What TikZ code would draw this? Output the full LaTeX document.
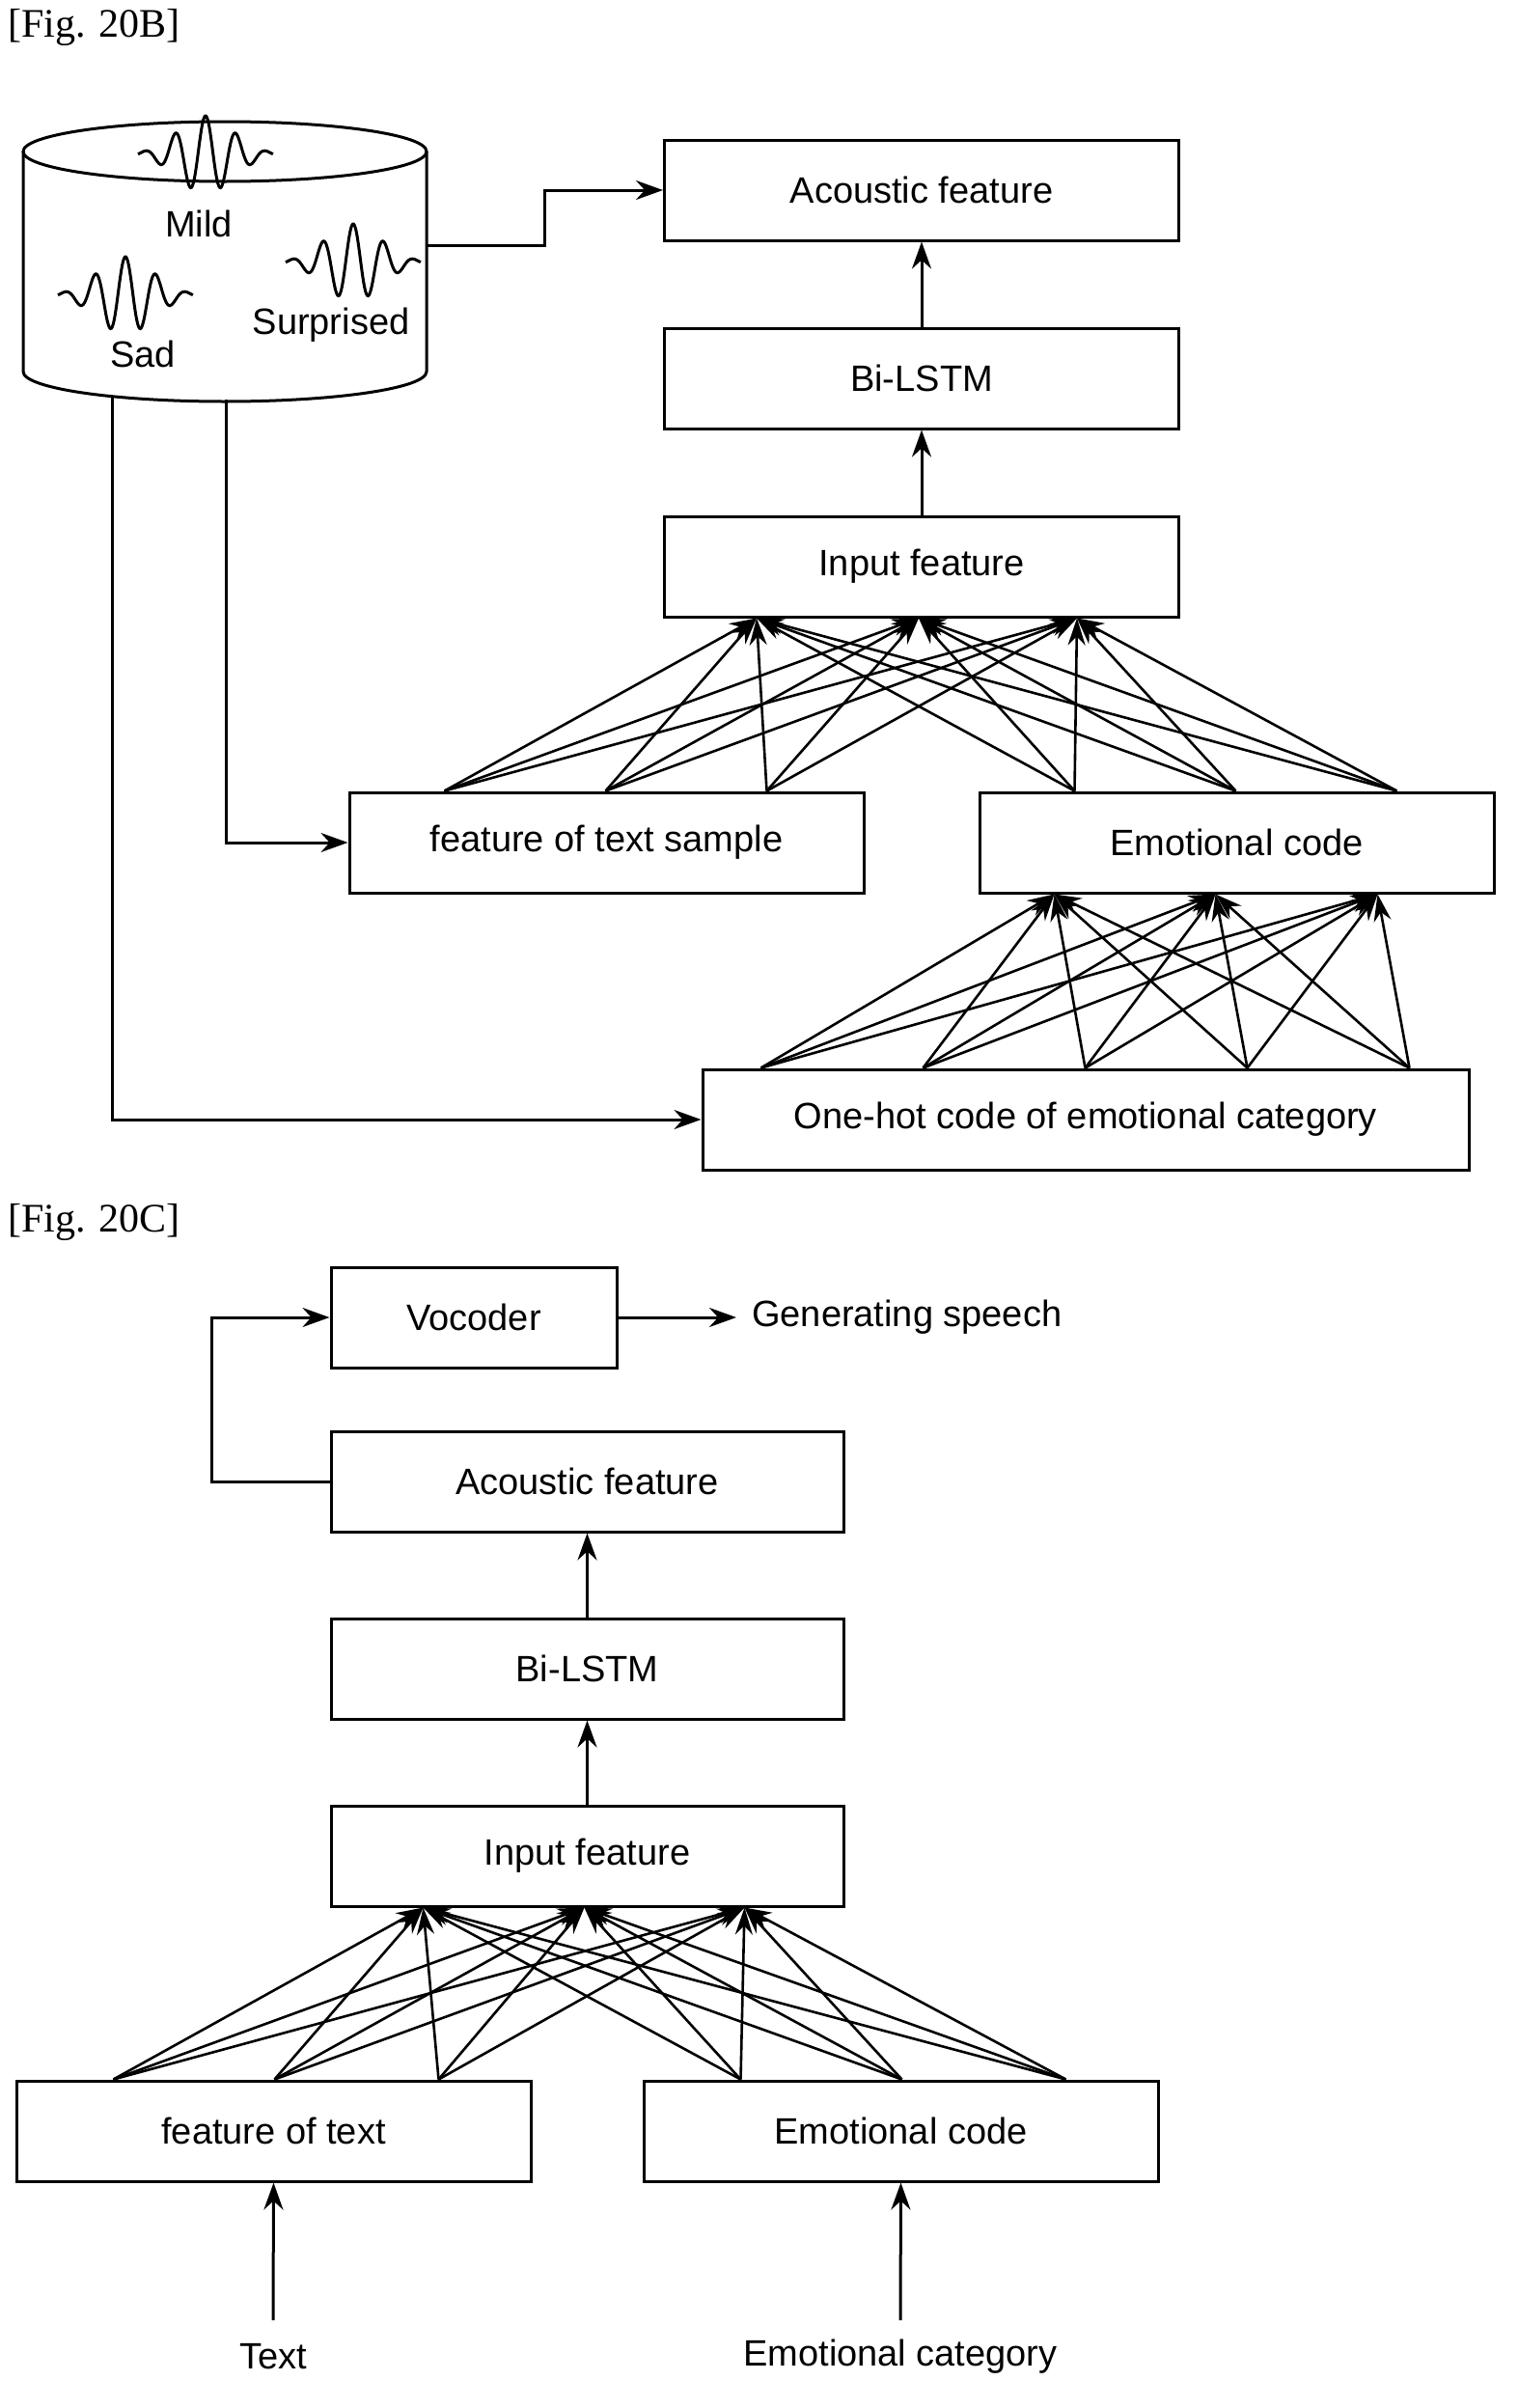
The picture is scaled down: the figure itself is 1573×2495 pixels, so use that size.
\documentclass[tikz,border=0pt]{standalone}
\usepackage{fontspec}
\setmainfont{Liberation Sans}
\newfontfamily\figfont{Liberation Serif}
\usetikzlibrary{arrows.meta,positioning,calc}
\tikzset{
  blk/.style={draw,line width=3pt,minimum width=533pt,minimum height=104pt,inner sep=0pt,font=\fontsize{38}{42}\selectfont},
  arr/.style={line width=3pt,-{Stealth[length=28pt,width=20pt]}},
  fan/.style={line width=2.6pt,-{Stealth[length=28pt,width=18pt]}},
  lbl/.style={font=\fontsize{38}{42}\selectfont,inner sep=0pt},
  figlbl/.style={font=\figfont\fontsize{42}{46}\selectfont,anchor=west,inner sep=0pt}
}
\newcommand{\wave}[2]{\draw[line width=3pt] plot[domain=-1:1,samples=150,smooth] ({#1+70*\x},{#2-40*exp(-3*\x*\x)*cos(800*\x)});}
\begin{document}
\begin{tikzpicture}[x=1pt,y=-1pt]
\useasboundingbox (0,0) rectangle (1573,2495);
%% Fig. 20B
\node[figlbl] (figB) at (8,28) {[Fig. 20B]};
% database
\draw[line width=3pt] (24,157) -- (24,385) arc[start angle=180,end angle=360,x radius=209,y radius=-31] -- (442,157);
\draw[line width=3pt] (233,157) ellipse[x radius=209,y radius=31];
\wave{213}{160}
\wave{366}{272}
\wave{130}{306}
\node[lbl] (mild) at (206,232) {Mild};
\node[lbl] (surp) at (343,337) {Surprised};
\node[lbl] (sad) at (148,367) {Sad};
\coordinate (dbR) at (442,254);
\coordinate (dbA) at (234,414);
\coordinate (dbB) at (116,410);
% blocks
\node[blk] (acB) at (955,197) {Acoustic feature};
\node[blk] (lstmB) at (955,392) {Bi-LSTM};
\node[blk] (inB) at (955,587) {Input feature};
\node[blk] (tsB) at (628.5,873) {feature of text sample};
\node[blk] (ecB) at (1281.5,873) {Emotional code};
\node[blk,minimum width=794pt] (ohB) at (1125,1160) {One-hot code of emotional category};
\draw[arr] (dbR) -- (564,254) |- (acB.west);
\draw[arr] (dbA) |- (tsB.west);
\draw[arr] (dbB) |- (ohB.west);
\draw[arr] (lstmB) -- (acB);
\draw[arr] (inB) -- (lstmB);
\foreach \s in {100,267,434}{
  \foreach \t in {97,265,429}{
    \draw[fan] ([xshift=\s pt]tsB.north west) -- ([xshift=\t pt]inB.south west);
    \draw[fan] ([xshift=\s pt]ecB.north west) -- ([xshift=\t pt]inB.south west);
  }
}
\foreach \s in {62,230,398,566,734}{
  \foreach \t in {79,246,414}{
    \draw[fan] ([xshift=\s pt]ohB.north west) -- ([xshift=\t pt]ecB.south west);
  }
}
%% Fig. 20C
\node[figlbl] (figC) at (8,1266) {[Fig. 20C]};
\node[blk,minimum width=296pt] (voc) at (491,1365) {Vocoder};
\node[lbl,anchor=west] (gen) at (779,1365) {Generating speech};
\node[blk,minimum width=531pt] (acC) at (608.5,1535) {Acoustic feature};
\node[blk,minimum width=531pt] (lstmC) at (608.5,1729) {Bi-LSTM};
\node[blk,minimum width=531pt] (inC) at (608.5,1923) {Input feature};
\node[blk] (tsC) at (283.5,2208) {feature of text};
\node[blk] (ecC) at (933.5,2208) {Emotional code};
\node[lbl] (txt) at (283,2442) {Text};
\node[lbl] (cat) at (933,2442) {Emotional category};
\coordinate (txtTop) at (283,2404);
\coordinate (catTop) at (933,2404);
\coordinate (genIn) at (763,1365);
\draw[arr] (voc.east) -- (genIn);
\draw[arr] (acC.west) -- (219,1535) |- (voc.west);
\draw[arr] (lstmC) -- (acC);
\draw[arr] (inC) -- (lstmC);
\draw[arr] (txtTop) -- (tsC.south);
\draw[arr] (catTop) -- (ecC.south);
\foreach \s in {102,269,439}{
  \foreach \t in {97,264,430}{
    \draw[fan] ([xshift=\s pt]tsC.north west) -- ([xshift=\t pt]inC.south west);
    \draw[fan] ([xshift=\s pt]ecC.north west) -- ([xshift=\t pt]inC.south west);
  }
}
\end{tikzpicture}
\end{document}
